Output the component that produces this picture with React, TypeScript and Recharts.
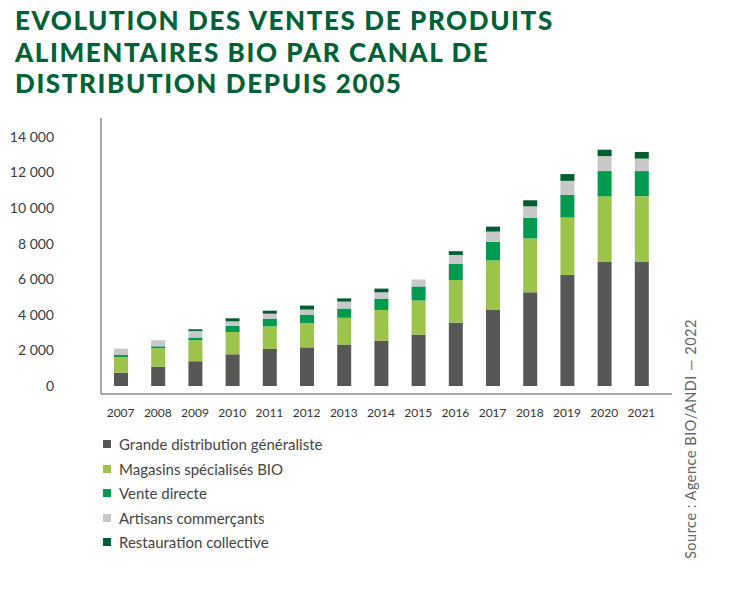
import React from 'react';
import { BarChart, Bar, XAxis, YAxis } from 'recharts';

const years = ['2007', '2008', '2009', '2010', '2011', '2012', '2013', '2014', '2015', '2016', '2017', '2018', '2019', '2020', '2021'];
const grandeDistribution = [750, 1090, 1390, 1780, 2080, 2170, 2330, 2550, 2890, 3560, 4270, 5260, 6240, 6970, 6970];
const magasinsBio = [880, 1030, 1180, 1250, 1270, 1370, 1500, 1720, 1910, 2390, 2780, 3030, 3220, 3680, 3690];
const venteDirecte = [110, 110, 150, 340, 430, 470, 520, 640, 790, 900, 1040, 1160, 1270, 1420, 1410];
const artisans = [360, 340, 370, 260, 280, 280, 390, 350, 390, 510, 580, 640, 790, 840, 700];
const restauration = [0, 0, 95, 170, 170, 225, 180, 210, 0, 210, 280, 340, 380, 360, 370];
const yTicks = [0, 2000, 4000, 6000, 8000, 10000, 12000, 14000];

const series = [
  { key: 'gd', name: 'Grande distribution généraliste', color: '#575756', values: grandeDistribution },
  { key: 'mb', name: 'Magasins spécialisés BIO', color: '#9dc44a', values: magasinsBio },
  { key: 'vd', name: 'Vente directe', color: '#009a50', values: venteDirecte },
  { key: 'ar', name: 'Artisans commerçants', color: '#c8c8c8', values: artisans },
  { key: 'rc', name: 'Restauration collective', color: '#005f30', values: restauration },
];

const data = years.map((y, i) => {
  const row: any = { year: y };
  series.forEach((s) => { row[s.key] = s.values[i]; });
  return row;
});

const FONT = 'Lato, "Open Sans", sans-serif';
const fmt = (v: number) => (v >= 1000 ? `${Math.floor(v / 1000)} ${String(v % 1000).padStart(3, '0')}` : String(v));

export default function App() {
  return (
    <div style={{ position: 'absolute', left: 0, top: 0, width: 730, height: 593, background: '#fff', overflow: 'hidden' }}>
      <div
        style={{
          position: 'absolute', left: 15, top: 5, fontFamily: FONT, fontWeight: 900, fontSize: 26,
          lineHeight: '31.5px', color: '#006236', letterSpacing: 1.6, whiteSpace: 'nowrap',
        }}
      >
        <div>EVOLUTION DES VENTES DE PRODUITS</div>
        <div>ALIMENTAIRES BIO PAR CANAL DE</div>
        <div>DISTRIBUTION DEPUIS 2005</div>
      </div>
      <div style={{ position: 'absolute', left: 0, top: 0 }}>
        <BarChart width={730} height={593} data={data} margin={{ top: 118, right: 58, bottom: 169, left: 0 }}>
          <XAxis
            dataKey="year"
            height={30}
            axisLine={{ stroke: '#8a8a8a', strokeWidth: 1.5 }}
            tickLine={false}
            tickSize={6}
            tickMargin={8}
            interval={0}
            padding={{ left: 1, right: 12 }}
            tick={{ fill: '#333', fontSize: 12, fontFamily: FONT }}
          />
          <YAxis
            width={101}
            domain={[-450, 15050]}
            ticks={yTicks}
            allowDataOverflow
            axisLine={{ stroke: '#8a8a8a', strokeWidth: 1.5 }}
            tickLine={false}
            tickSize={6}
            tickMargin={41}
            tickFormatter={fmt}
            tick={{ fill: '#3c3c3c', fontSize: 14, fontFamily: FONT }}
          />
          {series.map((s) => (
            <Bar key={s.key} dataKey={s.key} name={s.name} stackId="a" fill={s.color} barSize={14} isAnimationActive={false} />
          ))}
        </BarChart>
      </div>
      <div style={{ position: 'absolute', left: 103, top: 432, fontFamily: FONT, fontSize: 15, color: '#444' }}>
        {series.map((s) => (
          <div key={s.key} style={{ display: 'flex', alignItems: 'center', height: 24.5 }}>
            <span style={{ display: 'inline-block', width: 8, height: 8, background: s.color, marginRight: 8 }} />
            <span>{s.name}</span>
          </div>
        ))}
      </div>
      <div
        style={{
          position: 'absolute', left: 683, top: 559, transformOrigin: '0 0', transform: 'rotate(-90deg)',
          fontFamily: FONT, fontSize: 14.5, letterSpacing: 0.5, color: '#666', whiteSpace: 'nowrap', lineHeight: '16px',
        }}
      >
        Source : Agence BIO/ANDI — 2022
      </div>
    </div>
  );
}
